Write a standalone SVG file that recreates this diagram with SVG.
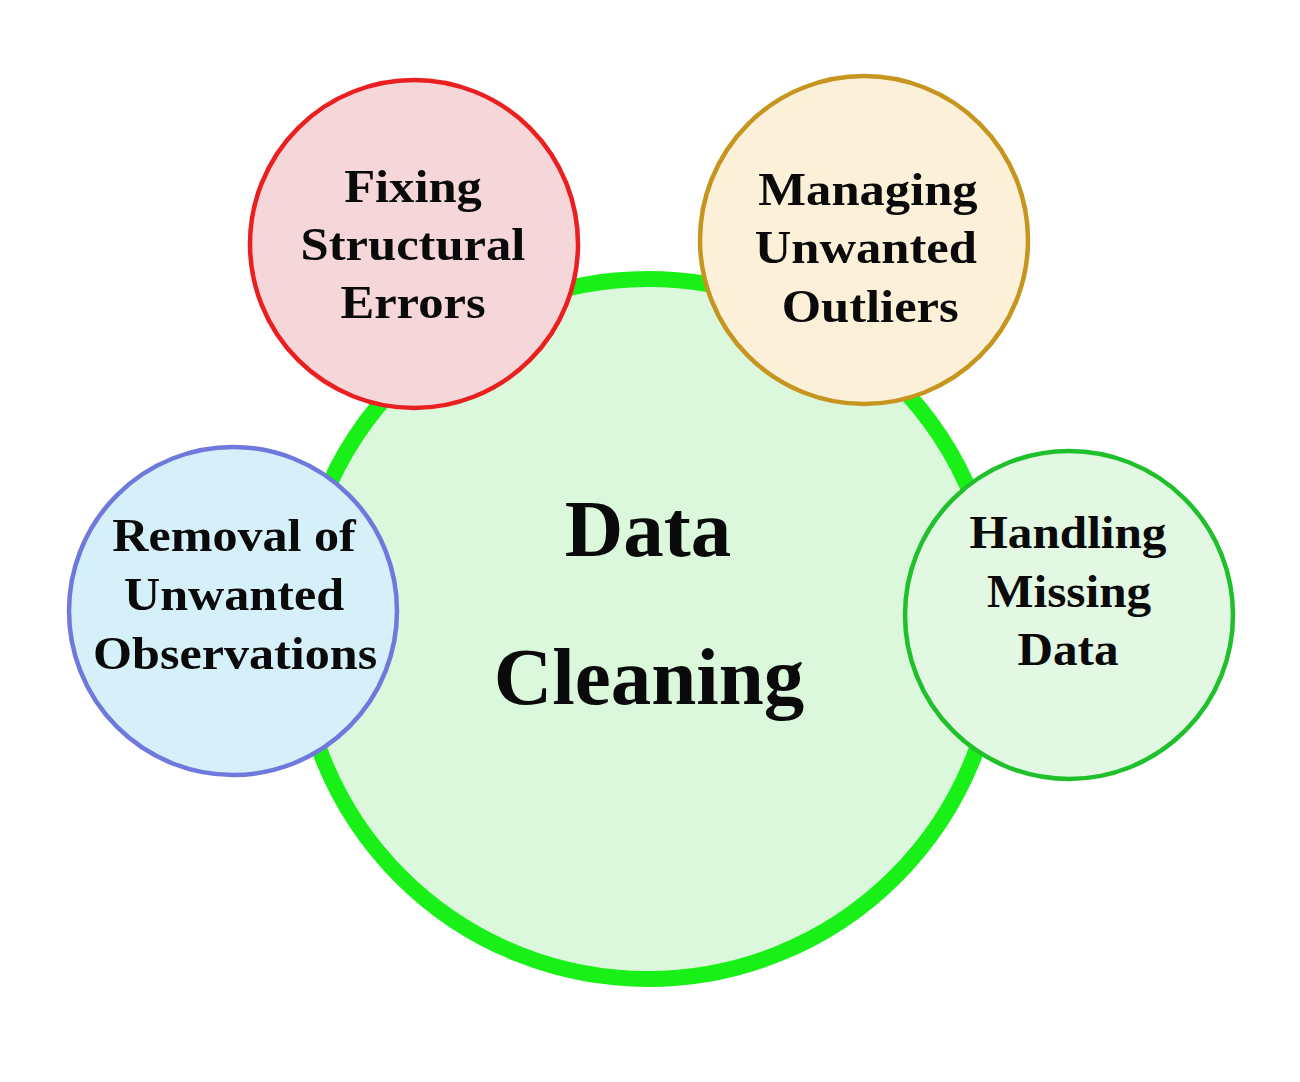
<svg xmlns="http://www.w3.org/2000/svg" width="1300" height="1082" viewBox="0 0 1300 1082">
  <style>
    .lbl { font-family: "Liberation Serif", "Times New Roman", serif; font-weight: bold; fill: #0a0a0a; text-anchor: middle; }
    .small { font-size: 46px; }
    .big { font-size: 81px; }
  </style>
  <rect x="0" y="0" width="1300" height="1082" fill="#ffffff"/>

  <!-- central hub -->
  <g id="data-cleaning">
    <circle cx="648" cy="629" r="350" fill="#dbf8dc" stroke="#18f018" stroke-width="16"/>
    <text class="lbl big" x="648" y="556">Data</text>
    <text class="lbl big" x="649" y="704">Cleaning</text>
  </g>

  <!-- satellite topics; labels are set slightly wide -->
  <g id="fixing-structural-errors">
    <circle cx="414" cy="244" r="164" fill="#f5d6d9" stroke="#ea1f1f" stroke-width="4.5"/>
    <g transform="translate(413 0) scale(1.1 1)">
      <text class="lbl small" x="0" y="202">Fixing</text>
      <text class="lbl small" x="0" y="260">Structural</text>
      <text class="lbl small" x="0" y="318">Errors</text>
    </g>
  </g>

  <g id="managing-unwanted-outliers">
    <circle cx="864" cy="240" r="164" fill="#fcf0d9" stroke="#c6951f" stroke-width="4.5"/>
    <g transform="translate(868 0) scale(1.1 1)">
      <text class="lbl small" x="0" y="205">Managing</text>
      <text class="lbl small" x="-2" y="263">Unwanted</text>
      <text class="lbl small" x="2" y="322">Outliers</text>
    </g>
  </g>

  <g id="removal-of-unwanted-observations">
    <circle cx="233" cy="611" r="164" fill="#d5f0f8" stroke="#6f78dc" stroke-width="4.5"/>
    <g transform="translate(234 0) scale(1.09 1)">
      <text class="lbl small" x="0" y="551">Removal of</text>
      <text class="lbl small" x="0" y="610">Unwanted</text>
      <text class="lbl small" x="1" y="669">Observations</text>
    </g>
  </g>

  <g id="handling-missing-data">
    <circle cx="1069" cy="615" r="164" fill="#e2f8e3" stroke="#1fc02c" stroke-width="4.5"/>
    <g transform="translate(1068 0) scale(1.07 1)">
      <text class="lbl small" x="0" y="548">Handling</text>
      <text class="lbl small" x="1" y="607">Missing</text>
      <text class="lbl small" x="0" y="665">Data</text>
    </g>
  </g>
</svg>
